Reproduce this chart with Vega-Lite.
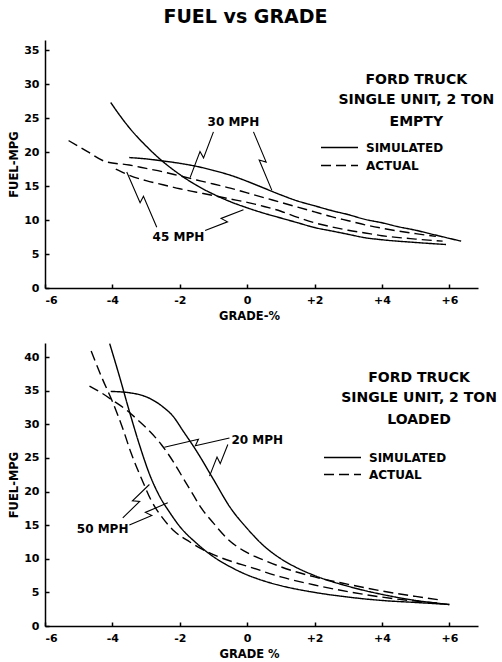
{
  "$schema": "https://vega.github.io/schema/vega-lite/v6.json",
  "autosize": {"type": "pad"},
  "bounds": "flush",
  "padding": {"left": 8, "top": 8, "right": 2, "bottom": 1},
  "title": {"text": "FUEL vs GRADE", "font": "DejaVu Sans", "fontSize": 19, "fontWeight": "bold", "color": "black", "anchor": "middle", "frame": "group", "dx": -16, "offset": 13},
  "datasets": {
    "top": [
      {"series": "S30", "type": "SIMULATED", "g": -3.5, "v": 19.2},
      {"series": "S30", "type": "SIMULATED", "g": -3.0, "v": 19.0},
      {"series": "S30", "type": "SIMULATED", "g": -2.5, "v": 18.7},
      {"series": "S30", "type": "SIMULATED", "g": -2.0, "v": 18.35},
      {"series": "S30", "type": "SIMULATED", "g": -1.5, "v": 17.9},
      {"series": "S30", "type": "SIMULATED", "g": -1.0, "v": 17.3},
      {"series": "S30", "type": "SIMULATED", "g": -0.5, "v": 16.6},
      {"series": "S30", "type": "SIMULATED", "g": 0.0, "v": 15.7},
      {"series": "S30", "type": "SIMULATED", "g": 0.5, "v": 14.7},
      {"series": "S30", "type": "SIMULATED", "g": 1.0, "v": 13.7},
      {"series": "S30", "type": "SIMULATED", "g": 1.5, "v": 12.8},
      {"series": "S30", "type": "SIMULATED", "g": 2.0, "v": 12.1},
      {"series": "S30", "type": "SIMULATED", "g": 2.5, "v": 11.4},
      {"series": "S30", "type": "SIMULATED", "g": 3.0, "v": 10.8},
      {"series": "S30", "type": "SIMULATED", "g": 3.5, "v": 10.1},
      {"series": "S30", "type": "SIMULATED", "g": 4.0, "v": 9.6},
      {"series": "S30", "type": "SIMULATED", "g": 4.5, "v": 9.0},
      {"series": "S30", "type": "SIMULATED", "g": 5.0, "v": 8.5},
      {"series": "S30", "type": "SIMULATED", "g": 5.5, "v": 7.9},
      {"series": "S30", "type": "SIMULATED", "g": 6.0, "v": 7.3},
      {"series": "S30", "type": "SIMULATED", "g": 6.35, "v": 6.9},
      {"series": "S45", "type": "SIMULATED", "g": -4.05, "v": 27.3},
      {"series": "S45", "type": "SIMULATED", "g": -3.75, "v": 25.2},
      {"series": "S45", "type": "SIMULATED", "g": -3.5, "v": 23.6},
      {"series": "S45", "type": "SIMULATED", "g": -3.0, "v": 20.9},
      {"series": "S45", "type": "SIMULATED", "g": -2.5, "v": 18.6},
      {"series": "S45", "type": "SIMULATED", "g": -2.0, "v": 16.7},
      {"series": "S45", "type": "SIMULATED", "g": -1.5, "v": 15.1},
      {"series": "S45", "type": "SIMULATED", "g": -1.0, "v": 13.8},
      {"series": "S45", "type": "SIMULATED", "g": -0.5, "v": 12.7},
      {"series": "S45", "type": "SIMULATED", "g": 0.0, "v": 11.8},
      {"series": "S45", "type": "SIMULATED", "g": 0.5, "v": 11.0},
      {"series": "S45", "type": "SIMULATED", "g": 1.0, "v": 10.3},
      {"series": "S45", "type": "SIMULATED", "g": 1.5, "v": 9.6},
      {"series": "S45", "type": "SIMULATED", "g": 2.0, "v": 8.9},
      {"series": "S45", "type": "SIMULATED", "g": 2.5, "v": 8.4},
      {"series": "S45", "type": "SIMULATED", "g": 3.0, "v": 7.9},
      {"series": "S45", "type": "SIMULATED", "g": 3.5, "v": 7.4},
      {"series": "S45", "type": "SIMULATED", "g": 4.0, "v": 7.1},
      {"series": "S45", "type": "SIMULATED", "g": 5.0, "v": 6.7},
      {"series": "S45", "type": "SIMULATED", "g": 5.9, "v": 6.4},
      {"series": "A30", "type": "ACTUAL", "g": -5.3, "v": 21.7},
      {"series": "A30", "type": "ACTUAL", "g": -4.75, "v": 20.1},
      {"series": "A30", "type": "ACTUAL", "g": -4.2, "v": 18.6},
      {"series": "A30", "type": "ACTUAL", "g": -3.5, "v": 18.1},
      {"series": "A30", "type": "ACTUAL", "g": -3.0, "v": 17.6},
      {"series": "A30", "type": "ACTUAL", "g": -2.5, "v": 17.1},
      {"series": "A30", "type": "ACTUAL", "g": -2.0, "v": 16.5},
      {"series": "A30", "type": "ACTUAL", "g": -1.5, "v": 15.9},
      {"series": "A30", "type": "ACTUAL", "g": -1.0, "v": 15.3},
      {"series": "A30", "type": "ACTUAL", "g": -0.5, "v": 14.7},
      {"series": "A30", "type": "ACTUAL", "g": 0.0, "v": 14.0},
      {"series": "A30", "type": "ACTUAL", "g": 0.5, "v": 13.3},
      {"series": "A30", "type": "ACTUAL", "g": 1.0, "v": 12.6},
      {"series": "A30", "type": "ACTUAL", "g": 1.5, "v": 11.9},
      {"series": "A30", "type": "ACTUAL", "g": 2.0, "v": 11.2},
      {"series": "A30", "type": "ACTUAL", "g": 2.5, "v": 10.5},
      {"series": "A30", "type": "ACTUAL", "g": 3.0, "v": 9.9},
      {"series": "A30", "type": "ACTUAL", "g": 3.5, "v": 9.3},
      {"series": "A30", "type": "ACTUAL", "g": 4.0, "v": 8.8},
      {"series": "A30", "type": "ACTUAL", "g": 5.0, "v": 8.0},
      {"series": "A30", "type": "ACTUAL", "g": 5.6, "v": 7.6},
      {"series": "A45", "type": "ACTUAL", "g": -3.9, "v": 17.5},
      {"series": "A45", "type": "ACTUAL", "g": -3.5, "v": 16.6},
      {"series": "A45", "type": "ACTUAL", "g": -3.0, "v": 15.8},
      {"series": "A45", "type": "ACTUAL", "g": -2.5, "v": 15.2},
      {"series": "A45", "type": "ACTUAL", "g": -2.0, "v": 14.6},
      {"series": "A45", "type": "ACTUAL", "g": -1.5, "v": 14.1},
      {"series": "A45", "type": "ACTUAL", "g": -1.0, "v": 13.6},
      {"series": "A45", "type": "ACTUAL", "g": -0.5, "v": 13.1},
      {"series": "A45", "type": "ACTUAL", "g": 0.0, "v": 12.6},
      {"series": "A45", "type": "ACTUAL", "g": 0.5, "v": 12.0},
      {"series": "A45", "type": "ACTUAL", "g": 1.0, "v": 11.3},
      {"series": "A45", "type": "ACTUAL", "g": 1.5, "v": 10.4},
      {"series": "A45", "type": "ACTUAL", "g": 2.0, "v": 9.6},
      {"series": "A45", "type": "ACTUAL", "g": 2.5, "v": 9.0},
      {"series": "A45", "type": "ACTUAL", "g": 3.0, "v": 8.5},
      {"series": "A45", "type": "ACTUAL", "g": 3.5, "v": 8.1},
      {"series": "A45", "type": "ACTUAL", "g": 4.0, "v": 7.7},
      {"series": "A45", "type": "ACTUAL", "g": 5.0, "v": 7.2},
      {"series": "A45", "type": "ACTUAL", "g": 5.8, "v": 6.9}
    ],
    "bottom": [
      {"series": "S20", "type": "SIMULATED", "g": -4.05, "v": 34.9},
      {"series": "S20", "type": "SIMULATED", "g": -3.5, "v": 34.7},
      {"series": "S20", "type": "SIMULATED", "g": -3.0, "v": 34.1},
      {"series": "S20", "type": "SIMULATED", "g": -2.5, "v": 32.6},
      {"series": "S20", "type": "SIMULATED", "g": -2.2, "v": 31.2},
      {"series": "S20", "type": "SIMULATED", "g": -1.9, "v": 29.0},
      {"series": "S20", "type": "SIMULATED", "g": -1.5, "v": 26.0},
      {"series": "S20", "type": "SIMULATED", "g": -1.0, "v": 21.8},
      {"series": "S20", "type": "SIMULATED", "g": -0.5, "v": 17.6},
      {"series": "S20", "type": "SIMULATED", "g": 0.0, "v": 14.5},
      {"series": "S20", "type": "SIMULATED", "g": 0.5, "v": 11.9},
      {"series": "S20", "type": "SIMULATED", "g": 1.0, "v": 10.0},
      {"series": "S20", "type": "SIMULATED", "g": 1.5, "v": 8.6},
      {"series": "S20", "type": "SIMULATED", "g": 2.0, "v": 7.5},
      {"series": "S20", "type": "SIMULATED", "g": 3.0, "v": 5.9},
      {"series": "S20", "type": "SIMULATED", "g": 4.0, "v": 4.7},
      {"series": "S20", "type": "SIMULATED", "g": 5.0, "v": 3.8},
      {"series": "S20", "type": "SIMULATED", "g": 6.0, "v": 3.2},
      {"series": "S50", "type": "SIMULATED", "g": -4.08, "v": 42.0},
      {"series": "S50", "type": "SIMULATED", "g": -3.8, "v": 37.3},
      {"series": "S50", "type": "SIMULATED", "g": -3.5, "v": 32.0},
      {"series": "S50", "type": "SIMULATED", "g": -3.2, "v": 27.0},
      {"series": "S50", "type": "SIMULATED", "g": -2.9, "v": 22.6},
      {"series": "S50", "type": "SIMULATED", "g": -2.6, "v": 19.3},
      {"series": "S50", "type": "SIMULATED", "g": -2.3, "v": 16.9},
      {"series": "S50", "type": "SIMULATED", "g": -2.0, "v": 14.8},
      {"series": "S50", "type": "SIMULATED", "g": -1.5, "v": 12.3},
      {"series": "S50", "type": "SIMULATED", "g": -1.0, "v": 10.3},
      {"series": "S50", "type": "SIMULATED", "g": -0.5, "v": 8.8},
      {"series": "S50", "type": "SIMULATED", "g": 0.0, "v": 7.6},
      {"series": "S50", "type": "SIMULATED", "g": 0.5, "v": 6.7},
      {"series": "S50", "type": "SIMULATED", "g": 1.0, "v": 6.0},
      {"series": "S50", "type": "SIMULATED", "g": 2.0, "v": 5.0},
      {"series": "S50", "type": "SIMULATED", "g": 3.0, "v": 4.3},
      {"series": "S50", "type": "SIMULATED", "g": 4.0, "v": 3.8},
      {"series": "S50", "type": "SIMULATED", "g": 5.0, "v": 3.5},
      {"series": "S50", "type": "SIMULATED", "g": 6.0, "v": 3.2},
      {"series": "A20", "type": "ACTUAL", "g": -4.68, "v": 35.7},
      {"series": "A20", "type": "ACTUAL", "g": -4.3, "v": 34.6},
      {"series": "A20", "type": "ACTUAL", "g": -4.0, "v": 33.6},
      {"series": "A20", "type": "ACTUAL", "g": -3.6, "v": 32.2},
      {"series": "A20", "type": "ACTUAL", "g": -3.3, "v": 30.9},
      {"series": "A20", "type": "ACTUAL", "g": -3.0, "v": 29.5},
      {"series": "A20", "type": "ACTUAL", "g": -2.55, "v": 27.0},
      {"series": "A20", "type": "ACTUAL", "g": -2.2, "v": 24.5},
      {"series": "A20", "type": "ACTUAL", "g": -1.96, "v": 22.5},
      {"series": "A20", "type": "ACTUAL", "g": -1.6, "v": 19.5},
      {"series": "A20", "type": "ACTUAL", "g": -1.37, "v": 17.6},
      {"series": "A20", "type": "ACTUAL", "g": -1.0, "v": 15.3},
      {"series": "A20", "type": "ACTUAL", "g": -0.57, "v": 12.9},
      {"series": "A20", "type": "ACTUAL", "g": 0.0, "v": 10.9},
      {"series": "A20", "type": "ACTUAL", "g": 0.5, "v": 9.8},
      {"series": "A20", "type": "ACTUAL", "g": 1.0, "v": 8.8},
      {"series": "A20", "type": "ACTUAL", "g": 2.0, "v": 7.3},
      {"series": "A20", "type": "ACTUAL", "g": 3.0, "v": 6.2},
      {"series": "A20", "type": "ACTUAL", "g": 4.0, "v": 5.2},
      {"series": "A20", "type": "ACTUAL", "g": 5.0, "v": 4.4},
      {"series": "A20", "type": "ACTUAL", "g": 5.7, "v": 3.9},
      {"series": "A50", "type": "ACTUAL", "g": -4.63, "v": 40.9},
      {"series": "A50", "type": "ACTUAL", "g": -4.3, "v": 36.8},
      {"series": "A50", "type": "ACTUAL", "g": -4.0, "v": 33.4},
      {"series": "A50", "type": "ACTUAL", "g": -3.7, "v": 29.5},
      {"series": "A50", "type": "ACTUAL", "g": -3.45, "v": 25.8},
      {"series": "A50", "type": "ACTUAL", "g": -3.1, "v": 21.5},
      {"series": "A50", "type": "ACTUAL", "g": -2.85, "v": 18.7},
      {"series": "A50", "type": "ACTUAL", "g": -2.5, "v": 16.0},
      {"series": "A50", "type": "ACTUAL", "g": -2.16, "v": 14.1},
      {"series": "A50", "type": "ACTUAL", "g": -1.7, "v": 12.5},
      {"series": "A50", "type": "ACTUAL", "g": -1.37, "v": 11.5},
      {"series": "A50", "type": "ACTUAL", "g": -0.8, "v": 10.2},
      {"series": "A50", "type": "ACTUAL", "g": -0.4, "v": 9.5},
      {"series": "A50", "type": "ACTUAL", "g": 0.0, "v": 8.9},
      {"series": "A50", "type": "ACTUAL", "g": 1.0, "v": 7.3},
      {"series": "A50", "type": "ACTUAL", "g": 2.0, "v": 6.1},
      {"series": "A50", "type": "ACTUAL", "g": 3.0, "v": 5.1},
      {"series": "A50", "type": "ACTUAL", "g": 4.0, "v": 4.3},
      {"series": "A50", "type": "ACTUAL", "g": 5.0, "v": 3.7},
      {"series": "A50", "type": "ACTUAL", "g": 5.7, "v": 3.4}
    ],
    "arrowsTop": [
      {"arrow": "a1", "i": 0, "g": -1.001, "v": 22.98},
      {"arrow": "a1", "i": 1, "g": -1.295, "v": 19.15},
      {"arrow": "a1", "i": 2, "g": -1.4, "v": 20.08},
      {"arrow": "a1", "i": 3, "g": -1.694, "v": 16.25},
      {"arrow": "a2", "i": 0, "g": 0.187, "v": 22.98},
      {"arrow": "a2", "i": 1, "g": 0.563, "v": 18.53},
      {"arrow": "a2", "i": 2, "g": 0.357, "v": 18.83},
      {"arrow": "a2", "i": 3, "g": 0.733, "v": 14.37},
      {"arrow": "a3", "i": 0, "g": -2.683, "v": 8.95},
      {"arrow": "a3", "i": 1, "g": -3.078, "v": 13.49},
      {"arrow": "a3", "i": 2, "g": -3.178, "v": 12.54},
      {"arrow": "a3", "i": 3, "g": -3.574, "v": 17.08},
      {"arrow": "a4", "i": 0, "g": -1.248, "v": 8.46},
      {"arrow": "a4", "i": 1, "g": -0.585, "v": 9.74},
      {"arrow": "a4", "i": 2, "g": -0.774, "v": 10.24},
      {"arrow": "a4", "i": 3, "g": -0.11, "v": 11.52}
    ],
    "arrowsBottom": [
      {"arrow": "b1", "i": 0, "g": -0.526, "v": 27.98},
      {"arrow": "b1", "i": 1, "g": -1.538, "v": 26.81},
      {"arrow": "b1", "i": 2, "g": -1.446, "v": 27.77},
      {"arrow": "b1", "i": 3, "g": -2.457, "v": 26.6},
      {"arrow": "b2", "i": 0, "g": -0.574, "v": 27.0},
      {"arrow": "b2", "i": 1, "g": -0.8, "v": 24.16},
      {"arrow": "b2", "i": 2, "g": -0.895, "v": 25.13},
      {"arrow": "b2", "i": 3, "g": -1.117, "v": 22.29},
      {"arrow": "b3", "i": 0, "g": -3.692, "v": 16.09},
      {"arrow": "b3", "i": 1, "g": -3.19, "v": 18.53},
      {"arrow": "b3", "i": 2, "g": -3.404, "v": 18.62},
      {"arrow": "b3", "i": 3, "g": -2.902, "v": 21.05},
      {"arrow": "b4", "i": 0, "g": -3.496, "v": 15.01},
      {"arrow": "b4", "i": 1, "g": -2.83, "v": 16.43},
      {"arrow": "b4", "i": 2, "g": -3.022, "v": 16.9},
      {"arrow": "b4", "i": 3, "g": -2.356, "v": 18.32}
    ],
    "labelsTop": [
      {"text": "30 MPH", "g": -0.41, "v": 24.5},
      {"text": "45 MPH", "g": -2.04, "v": 7.5}
    ],
    "labelsBottom": [
      {"text": "20 MPH", "g": 0.3, "v": 27.7},
      {"text": "50 MPH", "g": -4.29, "v": 14.5}
    ],
    "headTop": [
      {"text": "FORD TRUCK", "g": 5.02, "v": 30.6},
      {"text": "SINGLE  UNIT, 2  TON", "g": 5.02, "v": 27.6},
      {"text": "EMPTY", "g": 5.02, "v": 24.5}
    ],
    "headBottom": [
      {"text": "FORD TRUCK", "g": 5.1, "v": 36.85},
      {"text": "SINGLE  UNIT, 2  TON", "g": 5.1, "v": 33.88},
      {"text": "LOADED", "g": 5.1, "v": 30.6}
    ]
  },
  "vconcat": [
    {
      "width": 433,
      "height": 248,
      "encoding": {
        "x": {"field": "g", "type": "quantitative", "scale": {"domain": [-6, 6.85], "nice": false, "zero": false},
              "axis": {"values": [-6, -4, -2, 0, 2, 4, 6], "labelExpr": "datum.value > 0 ? '+' + datum.value : '' + datum.value", "title": "GRADE-%", "titleX": 204}},
        "y": {"field": "v", "type": "quantitative", "scale": {"domain": [0, 36.5], "nice": false},
              "axis": {"values": [0, 5, 10, 15, 20, 25, 30, 35], "title": "FUEL-MPG"}}
      },
      "layer": [
        {
          "data": {"name": "top"},
          "mark": {"type": "line", "interpolate": "monotone", "strokeWidth": 1.4, "color": "black"},
          "encoding": {
            "detail": {"field": "series"},
            "strokeDash": {"field": "type", "type": "nominal",
              "scale": {"domain": ["SIMULATED", "ACTUAL"], "range": [[1, 0], [10, 5]]},
              "legend": {"orient": "none", "legendX": 275, "legendY": 99, "title": null}}
          }
        },
        {
          "data": {"name": "arrowsTop"},
          "mark": {"type": "line", "strokeWidth": 1.1, "color": "black"},
          "encoding": {"detail": {"field": "arrow"}, "order": {"field": "i"}}
        },
        {
          "data": {"name": "labelsTop"},
          "mark": {"type": "text", "font": "DejaVu Sans", "fontSize": 12, "fontWeight": "bold", "color": "black"},
          "encoding": {"text": {"field": "text"}}
        },
        {
          "data": {"name": "headTop"},
          "mark": {"type": "text", "font": "DejaVu Sans", "fontSize": 14, "fontWeight": "bold", "color": "black"},
          "encoding": {"text": {"field": "text"}}
        }
      ]
    },
    {
      "width": 433,
      "height": 283,
      "encoding": {
        "x": {"field": "g", "type": "quantitative", "scale": {"domain": [-6, 6.85], "nice": false, "zero": false},
              "axis": {"values": [-6, -4, -2, 0, 2, 4, 6], "labelExpr": "datum.value > 0 ? '+' + datum.value : '' + datum.value", "title": "GRADE %", "titleX": 204}},
        "y": {"field": "v", "type": "quantitative", "scale": {"domain": [0, 42.1], "nice": false},
              "axis": {"values": [0, 5, 10, 15, 20, 25, 30, 35, 40], "title": "FUEL-MPG"}}
      },
      "layer": [
        {
          "data": {"name": "bottom"},
          "mark": {"type": "line", "interpolate": "monotone", "strokeWidth": 1.4, "color": "black"},
          "encoding": {
            "detail": {"field": "series"},
            "strokeDash": {"field": "type", "type": "nominal",
              "scale": {"domain": ["SIMULATED", "ACTUAL"], "range": [[1, 0], [10, 5]]},
              "legend": {"orient": "none", "legendX": 278, "legendY": 106, "rowPadding": 0, "title": null}}
          }
        },
        {
          "data": {"name": "arrowsBottom"},
          "mark": {"type": "line", "strokeWidth": 1.1, "color": "black"},
          "encoding": {"detail": {"field": "arrow"}, "order": {"field": "i"}}
        },
        {
          "data": {"name": "labelsBottom"},
          "mark": {"type": "text", "font": "DejaVu Sans", "fontSize": 12, "fontWeight": "bold", "color": "black"},
          "encoding": {"text": {"field": "text"}}
        },
        {
          "data": {"name": "headBottom"},
          "mark": {"type": "text", "font": "DejaVu Sans", "fontSize": 14, "fontWeight": "bold", "color": "black"},
          "encoding": {"text": {"field": "text"}}
        }
      ]
    }
  ],
  "resolve": {"scale": {"strokeDash": "independent"}, "legend": {"strokeDash": "independent"}},
  "config": {
    "view": {"stroke": null},
    "font": "DejaVu Sans",
    "concat": {"spacing": 55},
    "axis": {
      "grid": false,
      "domainColor": "black", "domainWidth": 1.5,
      "tickColor": "black", "tickWidth": 1.5, "tickSize": -4,
      "labelFont": "DejaVu Sans", "labelFontSize": 11, "labelFontWeight": "bold", "labelColor": "black",
      "titleFont": "DejaVu Sans", "titleFontSize": 11.5, "titleFontWeight": "bold", "titleColor": "black"
    },
    "axisX": {"labelPadding": 10, "titlePadding": 5},
    "axisY": {"labelPadding": 10, "titlePadding": 4},
    "legend": {
      "symbolType": "stroke", "symbolSize": 1369, "symbolStrokeColor": "black", "symbolStrokeWidth": 1.4,
      "labelFont": "DejaVu Sans", "labelFontSize": 12, "labelFontWeight": "bold", "labelColor": "black",
      "labelOffset": 7, "clipHeight": 17, "rowPadding": 1, "padding": 0
    }
  }
}
